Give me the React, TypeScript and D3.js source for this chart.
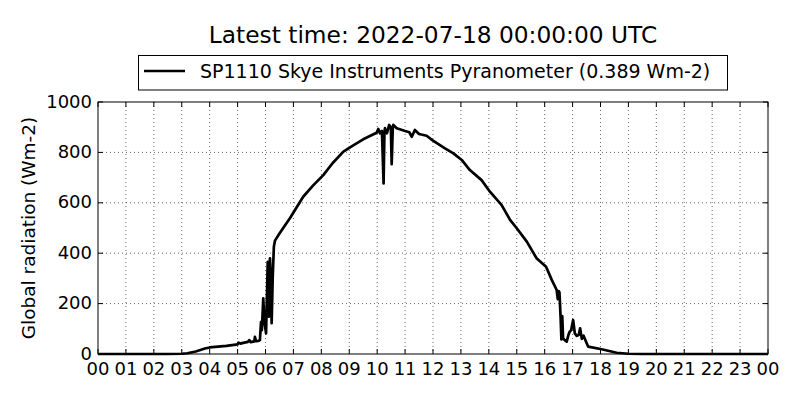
import { useRef, useEffect } from 'react';
import * as d3 from 'd3';

// Hours since 00 UTC and the radiation (Wm-2)
const hours = [
  0, 1, 2, 2.5, 3.0, 3.2, 3.5, 3.83, 4.0, 4.3, 4.6, 5.0, 5.03, 5.1, 5.2, 5.37, 5.42, 5.47,
  5.6, 5.62, 5.66, 5.75, 5.8, 5.84, 5.87, 5.92, 5.96, 6.02, 6.08, 6.12, 6.16, 6.19, 6.22,
  6.26, 6.3, 6.34, 6.5, 6.88, 7.35, 7.7, 8.07, 8.4, 8.79, 9.1, 9.5, 9.98, 10.04, 10.1,
  10.17, 10.23, 10.26, 10.28, 10.35, 10.43, 10.49, 10.52, 10.56, 10.58, 10.7, 11.0, 11.15,
  11.24, 11.35, 11.5, 11.77, 12.0, 12.25, 12.43, 12.73, 13.03, 13.32, 13.74, 14.04, 14.46,
  14.76, 15.0, 15.36, 15.71, 16.05, 16.25, 16.43, 16.47, 16.5, 16.53, 16.57, 16.6, 16.63,
  16.66, 16.72, 16.79, 16.85, 16.9, 16.95, 17.02, 17.08, 17.15, 17.22, 17.27, 17.33, 17.39,
  17.56, 18.04, 18.58, 19.0, 19.5, 24,
];
const radiation = [
  0, 0, 0, 0, 1, 3, 10, 22, 26, 29, 32, 38, 45, 41, 44, 48, 55, 47,
  50, 68, 51, 52, 55, 128, 95, 221, 130, 82, 366, 148, 380, 290, 122,
  310, 426, 450, 478, 540, 624, 668, 710, 757, 803, 825, 852, 878, 893, 876,
  885, 677, 880, 896, 876, 909, 900, 753, 900, 909, 896, 885, 880,
  862, 889, 873, 866, 847, 829, 816, 796, 770, 730, 690, 644, 591,
  532, 499, 446, 380, 346, 295, 254, 218, 250, 244, 148, 58, 150,
  62, 55, 49, 75, 89, 95, 135, 82, 72, 75, 102, 60, 73,
  29, 19, 5, 1, 0, 0,
];
const hourTicks = d3.range(0, 25);
const valueTicks = [0, 200, 400, 600, 800, 1000];

const TITLE = 'Latest time: 2022-07-18 00:00:00 UTC';
const LEGEND_LABEL = 'SP1110 Skye Instruments Pyranometer (0.389 Wm-2)';
const Y_LABEL = 'Global radiation (Wm-2)';

const WIDTH = 800;
const HEIGHT = 400;
const PLOT = { left: 98, right: 768, top: 102, bottom: 354 };
const FONT = '"DejaVu Sans", sans-serif';
const TICK_LEN = 5;

export default function App() {
  const svgRef = useRef<SVGSVGElement>(null);

  useEffect(() => {
    document.body.style.margin = '0';
    if (!svgRef.current) return;

    const svg = d3.select(svgRef.current);
    svg.selectAll('*').remove();

    const x = d3.scaleLinear().domain([0, 24]).range([PLOT.left, PLOT.right]);
    const y = d3.scaleLinear().domain([0, 1000]).range([PLOT.bottom, PLOT.top]);

    svg.append('rect').attr('width', WIDTH).attr('height', HEIGHT).attr('fill', '#fff');

    // dotted grid
    const grid = svg.append('g').attr('stroke', '#000').attr('stroke-width', 0.6)
      .attr('stroke-dasharray', '1,3');
    grid.selectAll('line.v').data(hourTicks.slice(1, -1)).enter().append('line')
      .attr('x1', d => x(d)).attr('x2', d => x(d))
      .attr('y1', PLOT.top).attr('y2', PLOT.bottom);
    grid.selectAll('line.h').data(valueTicks.slice(1, -1)).enter().append('line')
      .attr('x1', PLOT.left).attr('x2', PLOT.right)
      .attr('y1', d => y(d)).attr('y2', d => y(d));

    // inward ticks on all four sides
    const ticks = svg.append('g').attr('stroke', '#000').attr('stroke-width', 1);
    hourTicks.forEach(h => {
      ticks.append('line').attr('x1', x(h)).attr('x2', x(h))
        .attr('y1', PLOT.bottom).attr('y2', PLOT.bottom - TICK_LEN);
      ticks.append('line').attr('x1', x(h)).attr('x2', x(h))
        .attr('y1', PLOT.top).attr('y2', PLOT.top + TICK_LEN);
    });
    valueTicks.forEach(v => {
      ticks.append('line').attr('x1', PLOT.left).attr('x2', PLOT.left + TICK_LEN)
        .attr('y1', y(v)).attr('y2', y(v));
      ticks.append('line').attr('x1', PLOT.right).attr('x2', PLOT.right - TICK_LEN)
        .attr('y1', y(v)).attr('y2', y(v));
    });

    // trace
    const line = d3.line<number>()
      .x((_, i) => x(hours[i]))
      .y(d => y(d));
    svg.append('path')
      .datum(radiation)
      .attr('d', line)
      .attr('fill', 'none')
      .attr('stroke', '#000')
      .attr('stroke-width', 2.7)
      .attr('stroke-linejoin', 'round');

    // frame
    svg.append('rect')
      .attr('x', PLOT.left).attr('y', PLOT.top)
      .attr('width', PLOT.right - PLOT.left).attr('height', PLOT.bottom - PLOT.top)
      .attr('fill', 'none').attr('stroke', '#000').attr('stroke-width', 1);

    // tick labels
    svg.append('g').selectAll('text').data(hourTicks).enter().append('text')
      .attr('x', d => x(d)).attr('y', 375)
      .attr('text-anchor', 'middle')
      .attr('font-family', FONT).attr('font-size', 18)
      .text(d => d3.format('02d')(d % 24));
    svg.append('g').selectAll('text').data(valueTicks).enter().append('text')
      .attr('x', PLOT.left - 6).attr('y', d => y(d) + 5.5)
      .attr('text-anchor', 'end')
      .attr('font-family', FONT).attr('font-size', 18)
      .text(d => d);

    svg.append('text')
      .attr('transform', `translate(35,${(PLOT.top + PLOT.bottom) / 2}) rotate(-90)`)
      .attr('text-anchor', 'middle')
      .attr('font-family', FONT).attr('font-size', 18.5)
      .text(Y_LABEL);

    svg.append('text')
      .attr('x', (PLOT.left + PLOT.right) / 2).attr('y', 43)
      .attr('text-anchor', 'middle')
      .attr('font-family', FONT).attr('font-size', 23.3)
      .text(TITLE);

    // legend
    const legend = svg.append('g');
    legend.append('rect')
      .attr('x', 138.5).attr('y', 55.5).attr('width', 589).attr('height', 34.5)
      .attr('fill', '#fff').attr('stroke', '#000').attr('stroke-width', 1);
    legend.append('line')
      .attr('x1', 144).attr('x2', 185).attr('y1', 71).attr('y2', 71)
      .attr('stroke', '#000').attr('stroke-width', 2.7);
    legend.append('text')
      .attr('x', 200).attr('y', 78)
      .attr('font-family', FONT).attr('font-size', 19)
      .text(LEGEND_LABEL);
  }, []);

  return <svg ref={svgRef} width={WIDTH} height={HEIGHT} style={{ display: 'block' }} />;
}
